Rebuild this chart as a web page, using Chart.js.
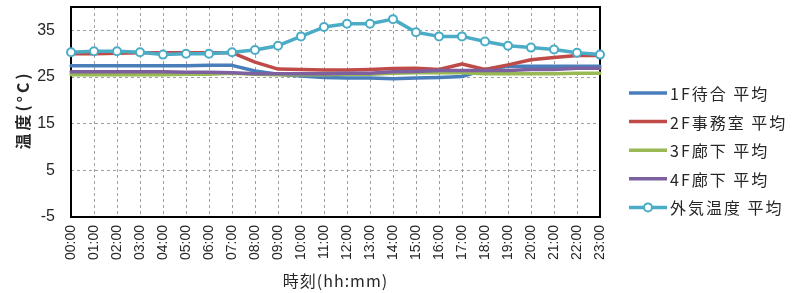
<!DOCTYPE html>
<html><head><meta charset="utf-8">
<script src="https://cdn.jsdelivr.net/npm/chart.js@4/dist/chart.umd.min.js"></script>
<style>html,body{margin:0;padding:0;background:#fff;}canvas{display:block;}</style>
</head><body>
<canvas id="c" width="793" height="293"></canvas>
<script>
const categories = ["00:00","01:00","02:00","03:00","04:00","05:00","06:00","07:00","08:00","09:00","10:00","11:00","12:00","13:00","14:00","15:00","16:00","17:00","18:00","19:00","20:00","21:00","22:00","23:00"];
const seriesNames = ["1F待合 平均","2F事務室 平均","3F廊下 平均","4F廊下 平均","外気温度 平均"];
const floor1 = [27.4,27.4,27.4,27.4,27.4,27.4,27.5,27.5,26.3,25.6,25.2,24.9,24.8,24.8,24.6,24.8,24.9,25.1,26.6,27.3,27.3,27.3,27.3,27.3];
const floor2 = [30.0,30.0,30.1,30.2,30.2,30.2,30.2,30.2,28.2,26.7,26.6,26.5,26.5,26.6,26.8,26.9,26.6,27.8,26.6,27.6,28.7,29.2,29.6,29.6];
const floor3 = [25.5,25.5,25.5,25.5,25.5,25.6,25.6,25.8,25.6,25.5,25.5,25.5,25.6,25.6,25.8,25.9,25.9,25.9,25.7,25.7,25.7,25.7,25.8,25.8];
const floor4 = [26.1,26.1,26.1,26.1,26.1,26.0,26.0,25.9,25.7,25.7,25.7,25.7,25.8,25.8,26.1,26.2,26.4,26.4,26.4,26.4,26.6,26.6,26.9,26.9];
const outside = [30.3,30.5,30.5,30.3,29.8,30.0,30.0,30.3,30.8,31.7,33.7,35.7,36.4,36.4,37.4,34.6,33.7,33.7,32.6,31.7,31.3,30.9,30.2,29.8];
const yTicks = [-5,5,15,25,35];
const yMin = -5, yMax = 40;
const xTitle = '時刻(hh:mm)';
const yTitle = '温度(°C)';

const colors = ["#4A7EBB","#BE4B48","#98B954","#7D60A0","#4BACC6"];
const values = [floor1, floor2, floor3, floor4, outside];

const datasets = values.map((v,i)=>({
  label: seriesNames[i],
  data: v,
  borderColor: colors[i],
  backgroundColor: colors[i],
  borderWidth: 3.5,
  pointRadius: i===4 ? 4 : 0,
  pointBackgroundColor: '#ffffff',
  pointBorderColor: colors[i],
  pointBorderWidth: 2,
  tension: 0,
  borderCapStyle: 'round',
  borderJoinStyle: 'round',
  order: 5 - i
}));

const frame = {
  id: 'frame',
  beforeDatasetsDraw(chart){
    const a = chart.chartArea, ctx = chart.ctx;
    ctx.save();
    ctx.strokeStyle = '#000';
    ctx.lineWidth = 2;
    ctx.strokeRect(a.left, a.top, a.right - a.left, a.bottom - a.top);
    ctx.restore();
  }
};

const titles = {
  id: 'axisTitles',
  afterDraw(chart){
    const ctx = chart.ctx, a = chart.chartArea;
    ctx.save();
    ctx.fillStyle = '#262626';
    ctx.textAlign = 'center';
    ctx.textBaseline = 'middle';
    ctx.letterSpacing = '1px';
    ctx.font = '16px "Noto Sans CJK JP"';
    ctx.fillText(xTitle, (a.left + a.right)/2, 281);
    ctx.translate(23, (a.top + a.bottom)/2 - 2);
    ctx.rotate(-Math.PI/2);
    ctx.letterSpacing = '3px';
    ctx.font = 'bold 16px "Noto Sans CJK JP"';
    ctx.fillText(yTitle, 0, 0);
    ctx.restore();
  }
};

const legendPlug = {
  id: 'customLegend',
  afterDraw(chart){
    const ctx = chart.ctx, a = chart.chartArea;
    const x0 = a.right + 29, x1 = a.right + 67, tx = a.right + 70;
    const y0 = 93, dy = 28.6;
    ctx.save();
    ctx.font = '16px "Noto Sans CJK JP"';
    ctx.letterSpacing = '2px';
    ctx.textBaseline = 'middle';
    ctx.textAlign = 'left';
    chart.data.datasets.forEach((ds, i) => {
      const y = y0 + i*dy;
      ctx.strokeStyle = ds.borderColor;
      ctx.lineWidth = 3.5;
      ctx.beginPath(); ctx.moveTo(x0, y); ctx.lineTo(x1, y); ctx.stroke();
      if (ds.pointRadius > 0) {
        ctx.beginPath(); ctx.arc((x0+x1)/2, y, 4, 0, Math.PI*2);
        ctx.fillStyle = '#fff'; ctx.fill();
        ctx.lineWidth = 2; ctx.stroke();
      }
      ctx.fillStyle = '#262626';
      ctx.fillText(ds.label, tx, y + 1);
    });
    ctx.restore();
  }
};

new Chart(document.getElementById('c'), {
  type: 'line',
  data: { labels: categories, datasets },
  plugins: [frame, titles, legendPlug],
  options: {
    responsive: false,
    devicePixelRatio: 1,
    animation: false,
    layout: { padding: { top: 7, right: 193, left: 0, bottom: 0 } },
    plugins: { legend: { display: false }, tooltip: { enabled: false } },
    scales: {
      x: {
        type: 'category',
        offset: false,
        grid: { color: '#a0a0a0', lineWidth: 1, drawTicks: false },
        border: { display: false, dash: [3,3] },
        ticks: { minRotation: 90, maxRotation: 90, autoSkip: false, padding: 8, color: '#262626',
                 font: { family: '"Liberation Sans", sans-serif', size: 14 } },
        title: { display: false, text: xTitle },
        afterFit(scale){ scale.height = 76; scale.paddingLeft = 0; scale.paddingRight = 0; }
      },
      y: {
        min: yMin, max: yMax,
        afterBuildTicks(scale){ scale.ticks = yTicks.map(v => ({ value: v })); },
        grid: { color: '#a0a0a0', lineWidth: 1, drawTicks: false },
        border: { display: false, dash: [3,3] },
        ticks: { padding: 16, color: '#262626',
                 font: { family: '"Liberation Sans", sans-serif', size: 16 } },
        title: { display: false, text: yTitle },
        afterFit(scale){ scale.width = 71; scale.paddingTop = 0; scale.paddingBottom = 0; }
      }
    }
  }
});
</script>
</body></html>
